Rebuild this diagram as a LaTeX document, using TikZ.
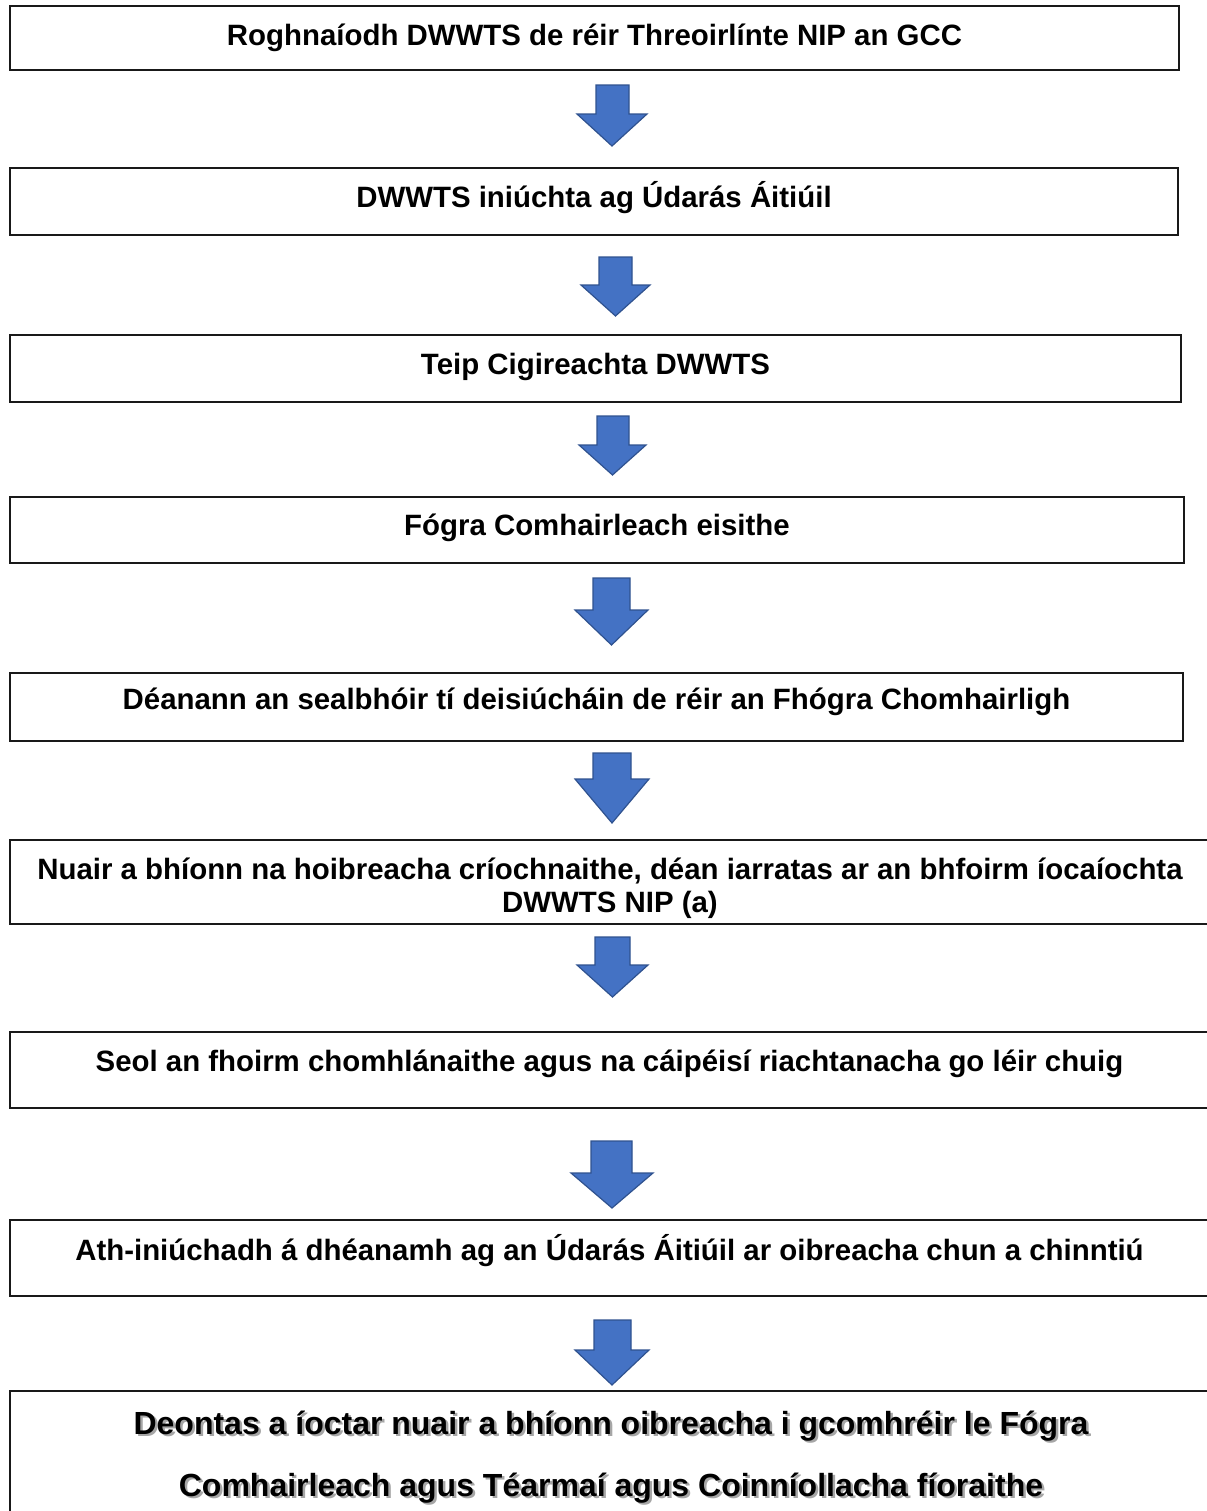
\documentclass[tikz,border=0pt]{standalone}
\usepackage{fontspec}
\setmainfont{Liberation Sans}
\definecolor{arrfill}{HTML}{4472C4}
\definecolor{arrdraw}{HTML}{2F528F}
\tikzset{
  boxst/.style={draw=black!90, line width=1pt},
  txt/.style={anchor=base, inner sep=0pt, font=\bfseries\fontsize{14.7pt}{17pt}\selectfont},
  bigtxt/.style={anchor=base, inner sep=0pt, font=\bfseries\fontsize{16pt}{18pt}\selectfont},
  shadowtxt/.style={bigtxt, text=black!35},
  blockarr/.style={fill=arrfill, draw=arrdraw, line width=0.6pt, line join=miter}
}
% #1 shaft left, #2 shaft right, #3 top, #4 head y, #5 head left, #6 head right, #7 tip y
\newcommand{\blockarrow}[7]{%
  \fill[blockarr] (#1,#3) -- (#2,#3) -- (#2,#4) -- (#6,#4) -- ({(#5+#6)/2},#7) -- (#5,#4) -- (#1,#4) -- cycle;}
\begin{document}
\begin{tikzpicture}[x=0.5pt,y=-0.5pt]
\useasboundingbox (0,0) rectangle (1206,1511);
% boxes
\draw[boxst] (10,6) rectangle (1179,70);
\draw[boxst] (10,168) rectangle (1178,235);
\draw[boxst] (10,335) rectangle (1181,402);
\draw[boxst] (10,497) rectangle (1184,563);
\draw[boxst] (10,673) rectangle (1183,741);
\draw[boxst] (1220,840) -- (10,840) -- (10,924) -- (1220,924);
\draw[boxst] (1220,1032) -- (10,1032) -- (10,1108) -- (1220,1108);
\draw[boxst] (1220,1220) -- (10,1220) -- (10,1296) -- (1220,1296);
\draw[boxst] (1220,1391) -- (10,1391) -- (10,1530);
% texts
\node[txt] (t1) at (594.5,45) {Roghnaíodh DWWTS de réir Threoirlínte NIP an GCC};
\node[txt] (t2) at (594,207) {DWWTS iniúchta ag Údarás Áitiúil};
\node[txt] (t3) at (595.5,374) {Teip Cigireachta DWWTS};
\node[txt] (t4) at (597,535) {Fógra Comhairleach eisithe};
\node[txt] (t5) at (596.5,709) {Déanann an sealbhóir tí deisiúcháin de réir an Fhógra Chomhairligh};
\node[txt] (t6a) at (610,879) {Nuair a bhíonn na hoibreacha críochnaithe, déan iarratas ar an bhfoirm íocaíochta};
\node[txt] (t6b) at (610,912) {DWWTS NIP (a)};
\node[txt] (t7) at (609.5,1071) {Seol an fhoirm chomhlánaithe agus na cáipéisí riachtanacha go léir chuig};
\node[txt] (t8) at (609.5,1260) {Ath-iniúchadh á dhéanamh ag an Údarás Áitiúil ar oibreacha chun a chinntiú};
\node[shadowtxt] at (613.5,1436.5) {Deontas a íoctar nuair a bhíonn oibreacha i gcomhréir le Fógra};
\node[shadowtxt] at (613.5,1498.5) {Comhairleach agus Téarmaí agus Coinníollacha fíoraithe};
\node[bigtxt] (t9a) at (611,1434) {Deontas a íoctar nuair a bhíonn oibreacha i gcomhréir le Fógra};
\node[bigtxt] (t9b) at (611,1496) {Comhairleach agus Téarmaí agus Coinníollacha fíoraithe};
% arrows
\blockarrow{596}{629}{85}{114}{577}{647}{146}
\blockarrow{599}{632}{257}{285}{581}{650}{316}
\blockarrow{597}{629}{416}{445}{579}{646}{475}
\blockarrow{593}{630}{578}{610}{575}{648}{645}
\blockarrow{593}{631}{753}{779}{575}{649}{823}
\blockarrow{595}{630}{937}{965}{577}{648}{997}
\blockarrow{591}{632}{1141}{1173}{571}{653}{1208}
\blockarrow{594}{631}{1320}{1350}{575}{649}{1385}
\end{tikzpicture}
\end{document}
